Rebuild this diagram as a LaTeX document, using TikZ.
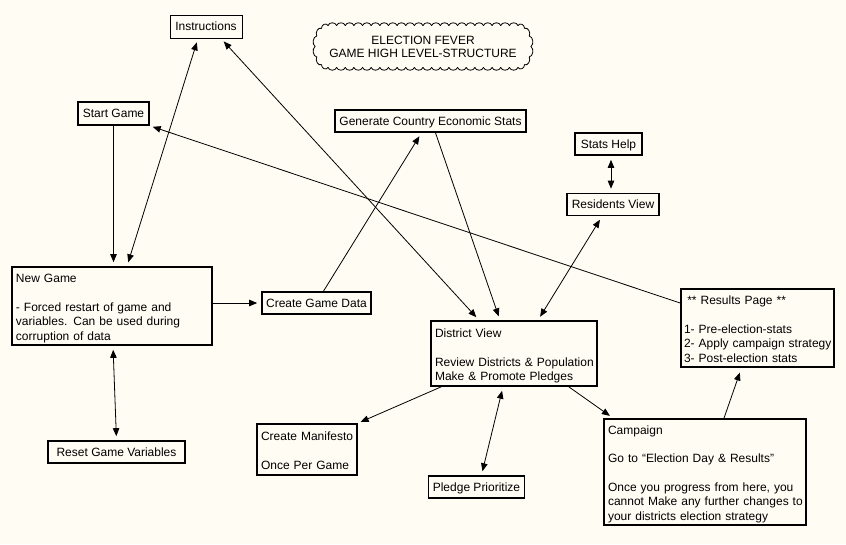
\documentclass[tikz,border=0pt]{standalone}
\usepackage{fontspec}
\setmainfont{Liberation Sans}
\usetikzlibrary{arrows.meta,calc}
\definecolor{paper}{RGB}{255,252,244}
% left-aligned block of lines that never wraps, set a little low in its box
\newcommand{\lines}[1]{\noindent\raisebox{-2.5pt}[\height][\depth]{\begin{tabular}{@{}l@{}}#1\end{tabular}}}
\begin{document}
\begin{tikzpicture}[x=1pt,y=-1pt,
  every node/.style={font=\fontsize{12}{14.5}\selectfont, inner sep=0pt},
  frame/.style={draw, line width=1.7pt},
  box/.style={frame, minimum height=22pt, text height=8.6pt, text depth=0pt},
  note/.style={frame, align=left, inner xsep=4pt},
  link/.style={line width=0.8pt, -{Triangle[length=8pt,width=6.5pt]}, shorten >=4pt},
  both/.style={line width=0.8pt, {Triangle[length=8pt,width=6.5pt]}-{Triangle[length=8pt,width=6.5pt]}, shorten >=4pt, shorten <=4pt},
  cloudline/.style={line width=0.8pt, line cap=round, line join=round},
]
\fill[paper] (0,0) rectangle (846,544);
\useasboundingbox (0,0) rectangle (846,544);

% title and its cloud outline
\node[align=center, font=\fontsize{12}{13}\selectfont] (title) at (423,46.5)
  {ELECTION FEVER\\GAME HIGH LEVEL-STRUCTURE};
\begin{scope}[shift={(title.center)}, cloudline]
  % scalloped top and bottom edges
  \foreach \i in {0,...,21} {
    \draw (-95+\i*190/22,-21) .. controls +(1.2,-3.6) and +(-1.2,-3.6) .. ++(190/22,0);
    \draw (-95+\i*190/22,21) .. controls +(1.2,3.6) and +(-1.2,3.6) .. ++(190/22,0);
  }
  % scalloped rounded ends
  \foreach \a in {0,30,...,150} {
    \pgfmathsetmacro\xa{95+13*sin(\a)}
    \pgfmathsetmacro\ya{-21*cos(\a)}
    \pgfmathsetmacro\xb{95+13*sin(\a+30)}
    \pgfmathsetmacro\yb{-21*cos(\a+30)}
    \pgfmathsetmacro\nx{3.6*sin(\a+15)}
    \pgfmathsetmacro\ny{-3.6*cos(\a+15)}
    \pgfmathsetmacro\cax{\xa+0.15*(\xb-\xa)+\nx}
    \pgfmathsetmacro\cay{\ya+0.15*(\yb-\ya)+\ny}
    \pgfmathsetmacro\cbx{\xb-0.15*(\xb-\xa)+\nx}
    \pgfmathsetmacro\cby{\yb-0.15*(\yb-\ya)+\ny}
    \draw (\xa,\ya) .. controls (\cax,\cay) and (\cbx,\cby) .. (\xb,\yb);
    \draw (-\xa,\ya) .. controls (-\cax,\cay) and (-\cbx,\cby) .. (-\xb,\yb);
  }
\end{scope}

% single-line boxes
\node[box, line width=1pt, minimum width=72, minimum height=23] (ins) at (206,26.5) {Instructions};
\node[box, minimum width=71, minimum height=23] (sg) at (113.5,113.5) {Start Game};
\node[box, minimum width=191] (gen) at (430.5,121) {Generate Country Economic Stats};
\node[box, minimum width=67] (sh) at (608.5,144) {Stats Help};
\node[box, minimum width=92] (rv) at (613,204.5) {Residents View};
\node[box, minimum width=109] (cgd) at (316.5,303) {Create Game Data};
\node[box, minimum width=137] (rgv) at (116.5,452) {Reset Game Variables};
\node[box, minimum width=96] (pp) at (476.5,487) {Pledge Prioritize};

% multi-line boxes
\node[note, text width=192, minimum height=78] (ng) at (112,306)
  {\lines{New Game\\[14.5pt]- Forced restart of game and\\variables. Can be used during\\corruption of data}};
\node[note, text width=158, minimum height=65] (dv) at (514,353.5)
  {\lines{District View\\[14.5pt]Review Districts \& Population\\Make \& Promote Pledges}};
\node[note, inner xsep=3pt, text width=147, minimum height=78] (rp) at (757.5,328)
  {\lines{\hspace*{3.3pt}** Results Page **\\[14.5pt]1- Pre-election-stats\\2- Apply campaign strategy\\3- Post-election stats}};
\node[note, text width=92, minimum height=51] (cm) at (307,449.5)
  {\lines{Create Manifesto\\[14pt]Once Per Game}};
\node[note, text width=194, minimum height=106] (camp) at (705,472)
  {\lines{Campaign\\[14pt]Go to “Election Day \& Results”\\[14pt]Once you progress from here, you\\cannot Make any further changes to\\your districts election strategy}};

% connectors
\draw[link] (sg.south) -- (sg.south |- ng.north);
\draw[both] ($(ng.north)+(15,0)$) -- ($(ins.south)+(-8,0)$);
\draw[both] ($(ins.south)+(15,0)$) -- ($(dv.north)+(-35,0)$);
\draw[link, shorten >=3pt] ($(rp.west)+(0,-25)$) -- (sg.south east);
\draw[link] (ng.east |- cgd.west) -- (cgd.west);
\draw[link] ($(cgd.north)+(7,0)$) -- ($(gen.south)+(-9,0)$);
\draw[link] ($(gen.south)+(5,0)$) -- ($(dv.north)+(-14,0)$);
\draw[both] ($(rv.south)+(-11,0)$) -- ($(dv.north)+(24,0)$);
\draw[both] ($(sh.south)+(2.5,0)$) -- ($(rv.north)+(-2,0)$);
\draw[both] ($(ng.south)+(1,0)$) -- (rgv.north);
\draw[link, shorten >=3pt] ($(dv.south west)+(11,0)$) -- (cm.north east);
\draw[both] ($(dv.south)+(-11,0)$) -- ($(pp.north)+(5,0)$);
\draw[link] ($(dv.south east)+(-29,0)$) -- ($(camp.north west)+(10,0)$);
\draw[link, shorten >=5pt] ($(camp.north)+(19,0)$) -- ($(rp.south)+(-16,0)$);
\end{tikzpicture}
\end{document}
